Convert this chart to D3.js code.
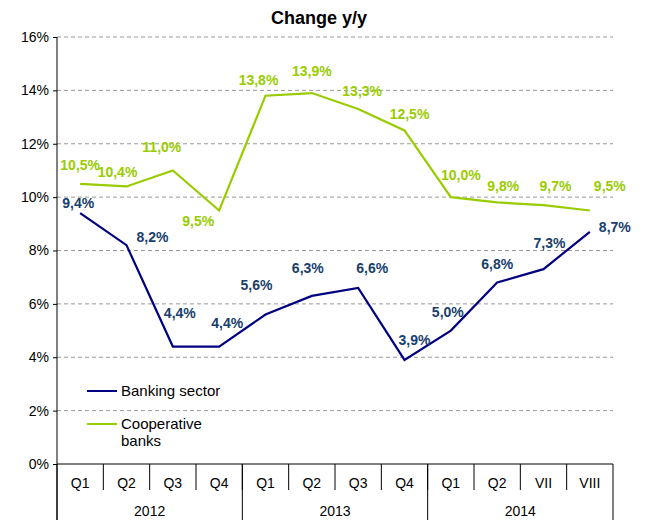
<!DOCTYPE html>
<html>
<head>
<meta charset="utf-8">
<script src="https://cdn.jsdelivr.net/npm/d3@7"></script>
<style>
  body { margin: 0; background: #fff; }
  svg text { font-family: "Liberation Sans", Arial, sans-serif; }
  .chartTitle { font-size: 18px; font-weight: bold; text-anchor: middle; }
  .tick text { font-size: 14px; fill: #000; }
  .lbl { font-size: 14px; font-weight: bold; text-anchor: middle; }
</style>
</head>
<body>
<div id="chart"></div>
<script>
const categories = ["Q1", "Q2", "Q3", "Q4", "Q1", "Q2", "Q3", "Q4", "Q1", "Q2", "VII", "VIII"]
const years = ["2012", "2013", "2014"]
const yearSpans = [4, 4, 4]
const bankingSector = [9.4, 8.2, 4.4, 4.4, 5.6, 6.3, 6.6, 3.9, 5.0, 6.8, 7.3, 8.7]
const cooperativeBanks = [10.5, 10.4, 11.0, 9.5, 13.8, 13.9, 13.3, 12.5, 10.0, 9.8, 9.7, 9.5]
const yTicks = [0, 2, 4, 6, 8, 10, 12, 14, 16]

// label nudges (px) so they sit like in the original
const bankingOffsets = [[-2,-10],[26,-8],[7,-33],[8,-23],[-9,-29],[-4,-28],[14,-20],[10,-20],[-3,-18],[0,-18],[6,-26],[25,-5]]
const coopOffsets = [[0,-19],[-9,-14],[-11,-23],[-21,11],[-7,-16],[0,-22],[4,-18],[5,-16],[10,-22],[6,-16],[12,-19],[20,-24]]

const blue = '#000080'
const blueText = '#17406D'
const green = '#99CC00'

const margin = { top: 37, left: 57, right: 39, bottom: 56 }
const W = 652, H = 520
const width = W - margin.left - margin.right
const height = H - margin.top - margin.bottom

const svg = d3.select('#chart').append('svg')
    .attr('width', W)
    .attr('height', H)

svg.append('text')
    .attr('class', 'chartTitle')
    .attr('x', 319)
    .attr('y', 24)
    .text('Change y/y')

const g = svg.append('g')
    .attr('transform', `translate(${margin.left}, ${margin.top})`)

const x = d3.scaleBand()
    .domain(d3.range(categories.length))
    .range([0, width])

const y = d3.scaleLinear()
    .domain([0, 16])
    .range([height, 0])

// grid
g.selectAll('.grid').data(yTicks.filter(d => d > 0))
    .enter().append('line')
        .attr('x1', 0)
        .attr('x2', width)
        .attr('y1', d => y(d))
        .attr('y2', d => y(d))
        .attr('stroke', '#999')
        .attr('stroke-dasharray', '4,3')

const yAxis = g.append('g')
    .call(d3.axisLeft(y).tickValues(yTicks).tickSize(4).tickPadding(4).tickFormat(d => d + '%'))
yAxis.select('.domain').remove()
yAxis.selectAll('.tick line').attr('stroke', '#000')

// axis lines
g.append('line')
    .attr('x1', 0).attr('x2', 0)
    .attr('y1', 0).attr('y2', H - margin.top)
    .attr('stroke', '#000')
g.append('line')
    .attr('x1', 0).attr('x2', width)
    .attr('y1', height).attr('y2', height)
    .attr('stroke', '#000')

// category dividers
g.selectAll('.catdiv').data(d3.range(1, categories.length))
    .enter().append('line')
        .attr('x1', d => x(d)).attr('x2', d => x(d))
        .attr('y1', height).attr('y2', height + 26)
        .attr('stroke', '#000')

g.selectAll('.catlbl').data(categories)
    .enter().append('text')
        .attr('x', (d, i) => x(i) + x.bandwidth() / 2)
        .attr('y', height + 24)
        .attr('text-anchor', 'middle')
        .attr('font-size', 14)
        .text(d => d)

// year groups
const yearStarts = yearSpans.map((s, i) => d3.sum(yearSpans.slice(0, i)))
const yearEdges = yearStarts.concat([categories.length])
g.selectAll('.yeardiv').data(yearEdges)
    .enter().append('line')
        .attr('x1', d => d === categories.length ? width : x(d))
        .attr('x2', d => d === categories.length ? width : x(d))
        .attr('y1', height).attr('y2', H - margin.top)
        .attr('stroke', '#000')

g.selectAll('.yearlbl').data(years)
    .enter().append('text')
        .attr('x', (d, i) => x(yearStarts[i]) + yearSpans[i] * x.bandwidth() / 2)
        .attr('y', height + 52)
        .attr('text-anchor', 'middle')
        .attr('font-size', 14)
        .text(d => d)

// lines
const cx = i => x(i) + x.bandwidth() / 2
const line = d3.line()
    .x((d, i) => cx(i))
    .y(d => y(d))

g.append('path')
    .datum(cooperativeBanks)
    .attr('d', line)
    .attr('fill', 'none')
    .attr('stroke', green)
    .attr('stroke-width', 2.2)

g.append('path')
    .datum(bankingSector)
    .attr('d', line)
    .attr('fill', 'none')
    .attr('stroke', blue)
    .attr('stroke-width', 2.2)

const addLabels = (values, offsets, color) => {
    g.selectAll(null).data(values)
        .enter().append('text')
            .attr('class', 'lbl')
            .attr('x', (d, i) => cx(i) + offsets[i][0])
            .attr('y', (d, i) => y(d) + offsets[i][1])
            .attr('dy', '0.35em')
            .attr('fill', color)
            .text(d => d.toFixed(1).replace('.', ',') + '%')
}
addLabels(cooperativeBanks, coopOffsets, green)
addLabels(bankingSector, bankingOffsets, blueText)

// legend
const legend = svg.append('g')
legend.append('line')
    .attr('x1', 87).attr('x2', 117)
    .attr('y1', 391).attr('y2', 391)
    .attr('stroke', blue).attr('stroke-width', 2)
legend.append('text')
    .attr('x', 121).attr('y', 391).attr('dy', '0.35em')
    .attr('font-size', 15)
    .text('Banking sector')
legend.append('line')
    .attr('x1', 87).attr('x2', 117)
    .attr('y1', 424).attr('y2', 424)
    .attr('stroke', green).attr('stroke-width', 2)
legend.append('text')
    .attr('x', 121).attr('y', 424).attr('dy', '0.35em')
    .attr('font-size', 15)
    .text('Cooperative')
legend.append('text')
    .attr('x', 121).attr('y', 441).attr('dy', '0.35em')
    .attr('font-size', 15)
    .text('banks')
</script>
</body>
</html>
